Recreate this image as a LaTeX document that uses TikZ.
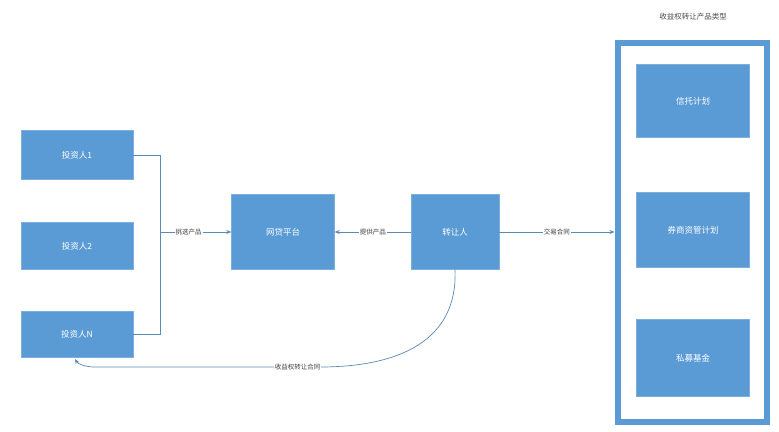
\documentclass[tikz,border=0pt]{standalone}
\usepackage{fontspec}
\newfontfamily\cjk{Noto Sans CJK SC}
\usetikzlibrary{arrows.meta}
\definecolor{boxblue}{HTML}{5B9BD5}
\definecolor{lineblue}{HTML}{5A8AB5}
\tikzset{
  box/.style={draw=boxblue!80!white, fill=boxblue, text=white, font=\cjk\fontsize{8.5}{10}\selectfont, inner sep=0pt},
  conn/.style={draw=lineblue, line width=0.7pt, -{Stealth[length=5pt,width=4pt]}},
  plain/.style={draw=lineblue, line width=0.7pt},
  lbl/.style={fill=white, text=black!75, font=\cjk\fontsize{6.5}{8}\selectfont, inner sep=1pt}
}
\begin{document}
\begin{tikzpicture}[x=1pt,y=-1pt]
\useasboundingbox[fill=white] (0,0) rectangle (779,431);
\node[box, minimum width=112pt, minimum height=49pt] (i1) at (77,155) {投资人1};
\node[box, minimum width=112pt, minimum height=47pt] (i2) at (77,246) {投资人2};
\node[box, minimum width=112pt, minimum height=46pt] (iN) at (77,334) {投资人N};
\node[box, minimum width=103pt, minimum height=75pt] (p) at (283,232) {网贷平台};
\node[box, minimum width=88pt, minimum height=75pt] (t) at (455,232) {转让人};
\node[draw=boxblue, line width=6pt, minimum width=149pt, minimum height=379pt] (f) at (692,232) {};
\node[box, minimum width=113pt, minimum height=73pt] (a) at (693,101) {信托计划};
\node[box, minimum width=113pt, minimum height=75pt] (b) at (693,230) {券商资管计划};
\node[box, minimum width=113pt, minimum height=77pt] (c) at (693,358) {私募基金};
\node[font=\cjk\fontsize{7.5}{9}\selectfont, text=black!70] (title) at (693,17) {收益权转让产品类型};
\coordinate (j1) at (160,155);
\coordinate (jN) at (160,334);
\coordinate (jm) at (160,232);
\draw[plain] (i1.east) -- (j1) -- (jN) -- (iN.east);
\draw[conn] (jm) -- node[lbl, pos=0.4]{挑选产品} (p.west);
\draw[conn] (t.west) -- node[lbl]{提供产品} (p.east);
\draw[conn] (t.east) -- node[lbl]{交易合同} (f.west);
\coordinate (cb) at (320,367);
\draw[plain] (t.south) .. controls (458,340) and (400,367) .. (cb);
\draw[conn] (cb) -- node[lbl, pos=0.1]{收益权转让合同} (95,367) .. controls (85,367) and (78,364) .. (75,359);
\end{tikzpicture}
\end{document}
